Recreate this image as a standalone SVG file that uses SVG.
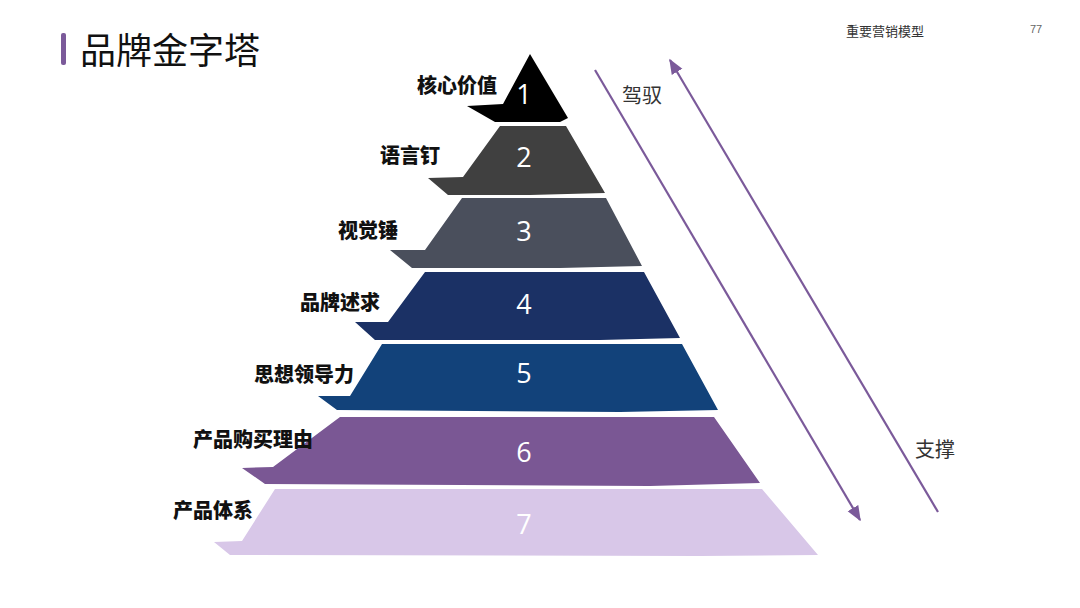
<svg xmlns="http://www.w3.org/2000/svg" width="1080" height="608" viewBox="0 0 1080 608">
<defs>
<style>
.lbl{font-family:"Noto Sans CJK SC",sans-serif;font-weight:900;font-size:20px;fill:#111;text-anchor:end}
.num{font-family:"Open Sans","Noto Sans",sans-serif;font-size:27px;fill:#fff;text-anchor:middle}
.side{font-family:"Noto Sans CJK SC",sans-serif;font-size:20px;fill:#333}
.conn{stroke:#7b5a9a;stroke-width:2.2;fill:none}
</style>
<marker id="ah" viewBox="0 0 10 10" refX="9" refY="5" markerWidth="7" markerHeight="7" orient="auto-start-reverse"><path d="M0,1 L10,5 L0,9 z" fill="#7b5a9a"/></marker>
</defs>
<rect width="1080" height="608" fill="#fff"/>
<rect x="61" y="33" width="5" height="32" rx="2" fill="#7b5a9a"/>
<text x="80" y="64" font-family="Noto Sans CJK SC,sans-serif" font-size="36" fill="#111">品牌金字塔</text>
<text x="846" y="36" font-family="Noto Sans CJK SC,sans-serif" font-size="13" fill="#333">重要营销模型</text>
<text x="1030" y="33" font-family="Liberation Sans,sans-serif" font-size="11" fill="#666">77</text>
<g id="layer1"><path d="M530,54 L568,118 L560,122 L495,122 L467,106 L503,104 Z" fill="#000"/><text class="num" x="524" y="104">1</text><text class="lbl" x="497" y="93">核心价值</text></g>
<g id="layer2"><path d="M500,126 L566,126 L605,193 L530,195 L448,195 L428,178 L463,177 Z" fill="#404040"/><text class="num" x="524" y="167">2</text><text class="lbl" x="440" y="163">语言钉</text></g>
<g id="layer3"><path d="M462,198 L606,198 L642,266 L560,268 L412,268 L390,250 L425,250 Z" fill="#4a4f5c"/><text class="num" x="524" y="241">3</text><text class="lbl" x="398" y="238">视觉锤</text></g>
<g id="layer4"><path d="M425,272 L644,272 L680,338 L600,340 L375,340 L355,322 L388,322 Z" fill="#1b3165"/><text class="num" x="524" y="314">4</text><text class="lbl" x="380" y="310">品牌述求</text></g>
<g id="layer5"><path d="M382,344 L682,344 L718,410 L620,412 L337,410 L318,396 L350,396 Z" fill="#12427a"/><text class="num" x="524" y="383">5</text><text class="lbl" x="354" y="382">思想领导力</text></g>
<g id="layer6"><path d="M340,417 L714,417 L760,483 L650,486 L265,484 L242,468 L273,467 Z" fill="#7a5794"/><text class="num" x="524" y="462">6</text><text class="lbl" x="313" y="447">产品购买理由</text></g>
<g id="layer7"><path d="M275,489 L762,489 L818,555 L700,556 L230,555 L214,542 L242,541 Z" fill="#d8c7e8"/><text class="num" x="524" y="534">7</text><text class="lbl" x="253" y="518">产品体系</text></g>
<g id="connectors">
<line class="conn" x1="595" y1="70" x2="860" y2="520" marker-end="url(#ah)"/>
<line class="conn" x1="938" y1="512" x2="670" y2="60" marker-end="url(#ah)"/>
</g>
<text class="side" x="622" y="103">驾驭</text>
<text class="side" x="915" y="457">支撑</text>
</svg>
